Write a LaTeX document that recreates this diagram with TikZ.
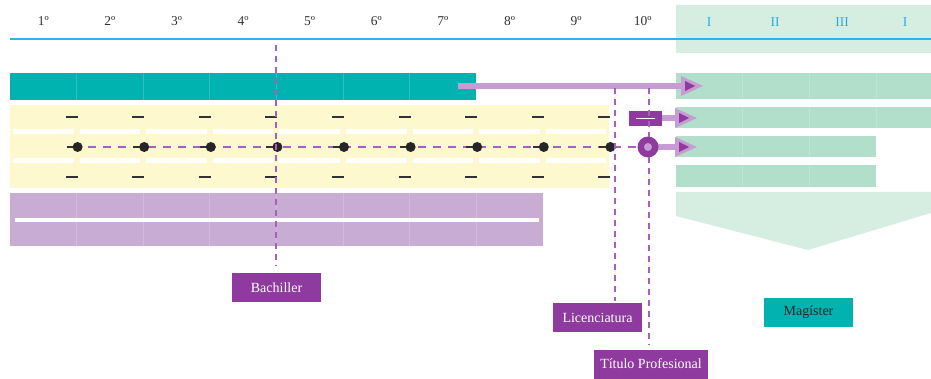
\documentclass[tikz,border=0pt]{standalone}
\usepackage{fontspec}
\setmainfont{Liberation Serif}
\definecolor{tealc}{RGB}{0,178,176}
\definecolor{greenbar}{RGB}{178,223,204}
\definecolor{greenlight}{RGB}{214,237,226}
\definecolor{yellowc}{RGB}{253,248,206}
\definecolor{lavc}{RGB}{201,172,212}
\definecolor{purpbox}{RGB}{142,58,158}
\definecolor{purpdash}{RGB}{168,96,186}
\definecolor{purparrow}{RGB}{198,156,210}
\definecolor{bluec}{RGB}{41,182,240}
\definecolor{romanc}{RGB}{41,171,226}
\definecolor{tickc}{RGB}{50,50,50}
\tikzset{
  label box/.style={fill=purpbox, text=white, minimum height=29pt, inner sep=0pt, font=\fontsize{14}{16}\selectfont},
  vdash/.style={purpdash, line width=2pt, dash pattern=on 6pt off 5pt},
  hdash/.style={purpdash, line width=1.8pt, dash pattern=on 8pt off 7pt},
  tickmark/.style={tickc, line width=2pt},
  colnum/.style={font=\fontsize{13.5}{15}\selectfont, text=black!80},
  romnum/.style={font=\fontsize{13.5}{15}\selectfont, text=romanc},
  sep/.style={white, opacity=0.18, line width=0.8pt},
}
\newcommand\plarrow[3]{% start x, end x (head tip), y
  \fill[purparrow] (#1,#3-3) rectangle (#2-20,#3+3);
  \fill[purparrow] (#2-22,#3-10) -- (#2,#3) -- (#2-22,#3+10) -- cycle;
  \fill[purpbox] (#2-18,#3-5) -- (#2-8,#3) -- (#2-18,#3+5) -- cycle;
}
\begin{document}
\begin{tikzpicture}[x=1pt,y=-1pt]
\useasboundingbox (0,0) rectangle (931,379);
\fill[white] (0,0) rectangle (931,379);
% header
\fill[greenlight] (676,5) rectangle (931,53);
\foreach \i/\t in {1/1º,2/2º,3/3º,4/4º,5/5º,6/6º,7/7º,8/8º,9/9º,10/10º}
  \node[colnum] (c\i) at ({10+66.6*(\i-0.5)},21) {\t};
\node[romnum] (r1) at (709,22) {I};
\node[romnum] (r2) at (775,22) {II};
\node[romnum] (r3) at (842,22) {III};
\node[romnum] (r4) at (905,22) {I};
\draw[bluec, line width=1.6pt] (10,39) -- (931,39);
% teal bar + green bars
\fill[tealc] (10,73) rectangle (476,100);
\foreach \i in {1,...,6} \draw[sep] ({10+66.6*\i},73) -- ({10+66.6*\i},100);
\fill[greenbar] (676,73) rectangle (931,99);
\fill[greenbar] (676,107) rectangle (931,128);
\fill[greenbar] (676,136) rectangle (876,157);
\fill[greenbar] (676,165) rectangle (876,187);
\foreach \x in {742,809,876} {
  \draw[sep] (\x,73) -- (\x,99);
  \draw[sep] (\x,107) -- (\x,128);
}
\foreach \x in {742,809} {
  \draw[sep] (\x,136) -- (\x,157);
  \draw[sep] (\x,165) -- (\x,187);
}
\fill[greenlight] (676,192) -- (931,192) -- (931,213) -- (808,250) -- (676,216) -- cycle;
% yellow band
\fill[yellowc] (10,105) rectangle (609,188);
\foreach \i in {1,...,9} {
  \pgfmathsetmacro\xa{\i==1 ? 13 : 10+66.6*(\i-1)+3}
  \pgfmathsetmacro\xb{10+66.6*\i-3}
  \fill[white] (\xa,129) rectangle (\xb,134);
  \fill[white] (\xa,158) rectangle (\xb,163);
}
% lavender band
\fill[lavc] (10,193) rectangle (543,246);
\foreach \i in {1,...,7} \draw[sep] ({10+66.6*\i},193) -- ({10+66.6*\i},246);
\fill[white] (15,218.5) rectangle (539,222.5);
% dashed line and dots
\draw[hdash] (88,147) -- (640,147);
\foreach \i in {1,...,9} {
  \pgfmathsetmacro\bx{10+66.6*\i}
  \draw[tickmark] (\bx-11,117) -- (\bx+1,117);
  \draw[tickmark] (\bx-11,177) -- (\bx+1,177);
  \draw[tickmark] (\bx-10,147) -- (\bx,147);
  \fill[black!85] (\bx+1,147) circle (5);
}
% arrows
\plarrow{458}{703}{86}
\plarrow{660}{697}{118}
\plarrow{656}{697}{147}
\fill[purpbox] (629,111) rectangle (662,126);
\draw[white, line width=1.3pt] (636,118.5) -- (655,118.5);
\fill[purpbox] (648,147) circle (10.5);
\fill[purparrow] (648,147) circle (4);
% label boxes
\node[label box, minimum width=89pt] (bach) at (276.5,287.5) {Bachiller};
\node[label box, minimum width=89pt] (lic) at (597.5,317.5) {Licenciatura};
\node[label box, minimum width=114pt] (tit) at (651,364) {Título Profesional};
\node[label box, minimum width=89pt, fill=tealc, text=black!85] (mag) at (808.5,312.5) {Magíster};
% vertical dashed connectors
\coordinate (vb) at (276,45);
\coordinate (vl) at (615,88);
\coordinate (vt) at (649,88);
\draw[vdash] (vb) -- ([yshift=7pt]bach.north -| vb);
\draw[vdash] (vl) -- ([yshift=2pt]lic.north -| vl);
\draw[vdash] (vt) -- (vt |- 0,137);
\draw[vdash] (vt |- 0,157) -- ([yshift=4pt]tit.north -| vt);
\end{tikzpicture}
\end{document}
